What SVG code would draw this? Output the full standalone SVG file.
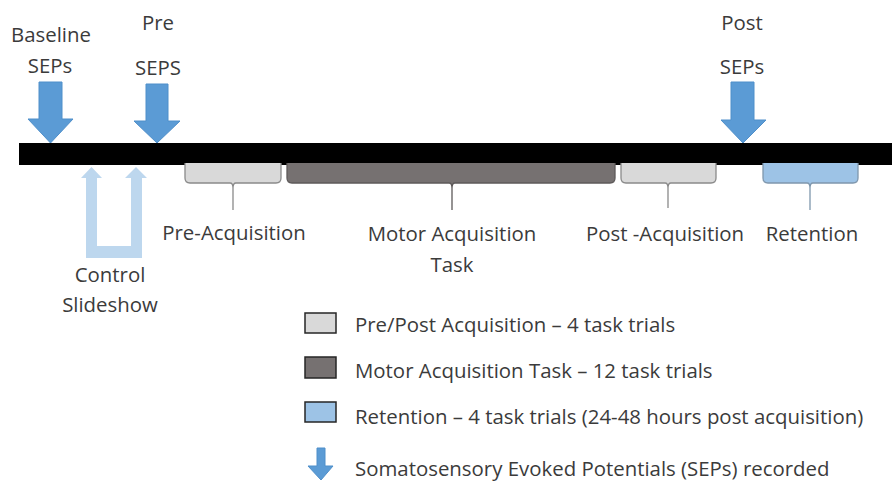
<svg xmlns="http://www.w3.org/2000/svg" width="892" height="483" viewBox="0 0 892 483">
<style>
text{font-family:"Open Sans","Liberation Sans",sans-serif;font-size:20.4px;fill:#3b3b3b}
.sep{fill:#5b9bd5;stroke:#4f8fca;stroke-width:1}
.ctl{fill:#bdd7ee}
.pp{fill:#d9d9d9;stroke:#8a8a8a;stroke-width:1.3}
.mt{fill:#767171;stroke:#5e5a5a;stroke-width:1.3}
.rt{fill:#9dc3e6;stroke:#7f97ad;stroke-width:1.3}
.lg{stroke:#262626;stroke-width:1.5}
</style>
<rect width="892" height="483" fill="#ffffff"/>
<g id="timeline"><rect x="19" y="143" width="873" height="22" fill="#000000"/></g>

<g id="baseline-seps">
<path class="sep" d="M39,82 H62 V119 H73 L50.5,143 L28,119 H39 Z"/>
<text x="51" y="42" text-anchor="middle">Baseline</text>
<text x="50" y="73" text-anchor="middle">SEPs</text>
</g>
<g id="pre-seps">
<path class="sep" d="M146,84 H168 V121 H180 L157,143 L134,121 H146 Z"/>
<text x="158" y="30" text-anchor="middle">Pre</text>
<text x="158" y="75" text-anchor="middle">SEPS</text>
</g>
<g id="post-seps">
<path class="sep" d="M731,82 H754 V120 H766 L743,143 L721,120 H731 Z"/>
<text x="742" y="30" text-anchor="middle">Post</text>
<text x="742" y="74" text-anchor="middle">SEPs</text>
</g>

<g id="control-slideshow">
<path class="ctl" d="M86,258 V178 H81 L91.5,167 L102,178 H97 V246 H131 V178 H125 L136,167 L147,178 H142 V258 Z"/>
<text x="110" y="282" text-anchor="middle">Control</text>
<text x="110" y="312" text-anchor="middle">Slideshow</text>
</g>

<g id="pre-acquisition">
<path class="pp" d="M185,163 V178 Q185,183 190,183 H230 Q233,183 233,188 V210 V188 Q233,183 236,183 H276 Q281,183 281,178 V163"/>
<text x="234" y="240" text-anchor="middle">Pre-Acquisition</text>
</g>
<g id="motor-acquisition">
<path class="mt" d="M287,163 V178 Q287,183 292,183 H449 Q452,183 452,188 V210 V188 Q452,183 455,183 H610 Q615,183 615,178 V163"/>
<text x="452" y="241" text-anchor="middle">Motor Acquisition</text>
<text x="452" y="272" text-anchor="middle">Task</text>
</g>
<g id="post-acquisition">
<path class="pp" d="M621,163 V178 Q621,183 626,183 H665 Q668,183 668,188 V208 V188 Q668,183 671,183 H711 Q716,183 716,178 V163"/>
<text x="665" y="241" text-anchor="middle">Post -Acquisition</text>
</g>
<g id="retention">
<path class="rt" d="M763,163 V178 Q763,183 768,183 H807 Q810,183 810,188 V210 V188 Q810,183 813,183 H853 Q858,183 858,178 V163"/>
<text x="812" y="241" text-anchor="middle">Retention</text>
</g>

<g id="legend">
<rect class="lg" x="305" y="313" width="31" height="20" fill="#d9d9d9"/>
<text x="355" y="332">Pre/Post Acquisition – 4 task trials</text>
<rect class="lg" x="305" y="357" width="31" height="21" fill="#767171"/>
<text x="355" y="378">Motor Acquisition Task – 12 task trials</text>
<rect class="lg" x="305" y="402" width="31" height="20" fill="#9dc3e6"/>
<text x="355" y="424">Retention – 4 task trials (24-48 hours post acquisition)</text>
<path class="sep" d="M317,448 H325 V466 H333 L321,480 L308,466 H317 Z"/>
<text x="355" y="476">Somatosensory Evoked Potentials (SEPs) recorded</text>
</g>
<g id="connectors"/>
</svg>
